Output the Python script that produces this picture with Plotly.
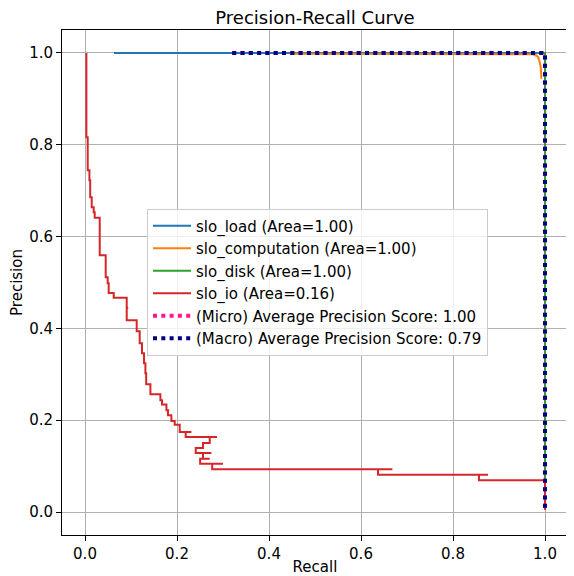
import plotly.graph_objects as go

# ---- data ----
load_recall = [0.063, 1.0, 1.0]
load_precision = [1.0, 1.0, 0.30]

comp_recall = [0.445, 0.96, 0.974, 0.982, 0.985, 0.9885, 0.9907, 0.992, 0.992]
comp_precision = [0.9985, 0.9985, 0.997, 0.994, 0.991, 0.980, 0.9695, 0.951, 0.944]

disk_recall = [0.985, 1.0, 1.0]
disk_precision = [1.0, 1.0, 0.005]

io_recall = [0.003, 0.003, 0.0059, 0.0059, 0.0096, 0.0096, 0.0113, 0.0113, 0.0146, 0.0146,
             0.0189, 0.0189, 0.0211, 0.0211, 0.0320, 0.0320, 0.0450, 0.0450, 0.0493, 0.0493,
             0.0515, 0.0515, 0.0624, 0.0624, 0.0907, 0.0907, 0.0939, 0.0907, 0.0907, 0.1124,
             0.1124, 0.1157, 0.1124, 0.1124, 0.1189, 0.1189, 0.1239, 0.1239, 0.1283, 0.1283,
             0.1313, 0.1313, 0.1352, 0.1330, 0.1330, 0.1422, 0.1422, 0.1639, 0.1639, 0.1674,
             0.1674, 0.1770, 0.1770, 0.1830, 0.1804, 0.1804, 0.1896, 0.1878, 0.1878, 0.1972,
             0.1950, 0.1950, 0.2080, 0.2059, 0.2059, 0.2313, 0.2189, 0.2189, 0.2870, 0.2711,
             0.2711, 0.2565, 0.2565, 0.2407, 0.2407, 0.2748, 0.2565, 0.2565, 0.2711, 0.2503,
             0.2503, 0.3000, 0.2765, 0.2765, 0.6683, 0.6370, 0.6370, 0.8761, 0.8565, 0.8565,
             1.0, 1.0]
io_precision = [1.0, 0.8163, 0.8163, 0.7444, 0.7444, 0.7227, 0.7227, 0.6856, 0.6856, 0.6638,
                0.6638, 0.6529, 0.6529, 0.6410, 0.6410, 0.5593, 0.5593, 0.5113, 0.5113, 0.4983,
                0.4983, 0.4771, 0.4771, 0.4667, 0.4667, 0.445, 0.445, 0.445, 0.4176, 0.4176,
                0.3937, 0.3937, 0.3937, 0.3937, 0.3937, 0.3675, 0.3675, 0.3458, 0.3458, 0.3240,
                0.3240, 0.3022, 0.3022, 0.3022, 0.2782, 0.2782, 0.2564, 0.2564, 0.2434, 0.2434,
                0.2340, 0.2340, 0.2216, 0.2216, 0.2216, 0.2107, 0.2107, 0.2107, 0.1983, 0.1983,
                0.1983, 0.1900, 0.1900, 0.1900, 0.1743, 0.1743, 0.1743, 0.1634, 0.1634, 0.1634,
                0.1503, 0.1503, 0.1394, 0.1394, 0.1285, 0.1285, 0.1285, 0.1163, 0.1163, 0.1163,
                0.1054, 0.1054, 0.1054, 0.0930, 0.0930, 0.0930, 0.0815, 0.0815, 0.0815, 0.0691,
                0.0691, 0.005]

avg_recall = [0.32, 1.0, 1.0]
avg_precision = [1.0, 1.0, 0.005]

class_names = ["slo_load", "slo_computation", "slo_disk", "slo_io"]
class_areas = [1.00, 1.00, 1.00, 0.16]
micro_score = 1.00
macro_score = 0.79

tick_vals = [0.0, 0.2, 0.4, 0.6, 0.8, 1.0]

colors = ["#1f77b4", "#ff7f0e", "#2ca02c", "#d62728"]
curves = [(load_recall, load_precision), (comp_recall, comp_precision),
          (disk_recall, disk_precision), (io_recall, io_precision)]

FONT = "DejaVu Sans"
FS = 15
fig = go.Figure()
for i, (name, area, (rx, py)) in enumerate(zip(class_names, class_areas, curves)):
    fig.add_trace(go.Scatter(
        x=rx, y=py, mode="lines", name=f"{name} (Area={area:.2f})",
        line=dict(color=colors[i], width=2)))

fig.add_trace(go.Scatter(
    x=avg_recall, y=avg_precision, mode="lines",
    name=f"(Micro) Average Precision Score: {micro_score:.2f}",
    line=dict(color="#ff1493", width=4, dash="4px,4.3px")))
fig.add_trace(go.Scatter(
    x=avg_recall, y=avg_precision, mode="lines",
    name=f"(Macro) Average Precision Score: {macro_score:.2f}",
    line=dict(color="#000080", width=4, dash="4px,4.3px")))

axis_common = dict(
    range=[-0.05, 1.05], tickvals=tick_vals, tickformat=".1f",
    showgrid=True, gridcolor="#b0b0b0", gridwidth=1, zeroline=False,
    showline=True, linecolor="black", linewidth=1, mirror=True,
    ticks="outside", ticklen=5, tickwidth=1, tickcolor="black",
    tickfont=dict(family=FONT, size=FS, color="black"), automargin=False,
)

# the page body adds an 8px offset, so the figure is 8px smaller on each side
fig.update_layout(
    width=566, height=568,
    margin=dict(l=54, r=6, t=22, b=41, pad=0),
    paper_bgcolor="white", plot_bgcolor="white",
    font=dict(family=FONT, size=FS, color="black"),
    title=dict(text="Precision-Recall Curve", x=0.5, xref="paper", xanchor="center",
               y=1 - 10 / 568, yref="container", yanchor="middle",
               font=dict(family=FONT, size=18, color="black")),
    xaxis=dict(axis_common, title=dict(text="Recall", standoff=4,
                                       font=dict(family=FONT, size=FS))),
    yaxis=dict(axis_common, title=dict(text="Precision", standoff=6,
                                       font=dict(family=FONT, size=FS))),
    showlegend=True,
    legend=dict(x=0.168, y=0.6463, xanchor="left", yanchor="top",
                bgcolor="rgba(255,255,255,0.8)", bordercolor="#cccccc", borderwidth=1,
                font=dict(family=FONT, size=FS, color="black"),
                itemwidth=38, traceorder="normal"),
)

fig.write_html("out.html")
